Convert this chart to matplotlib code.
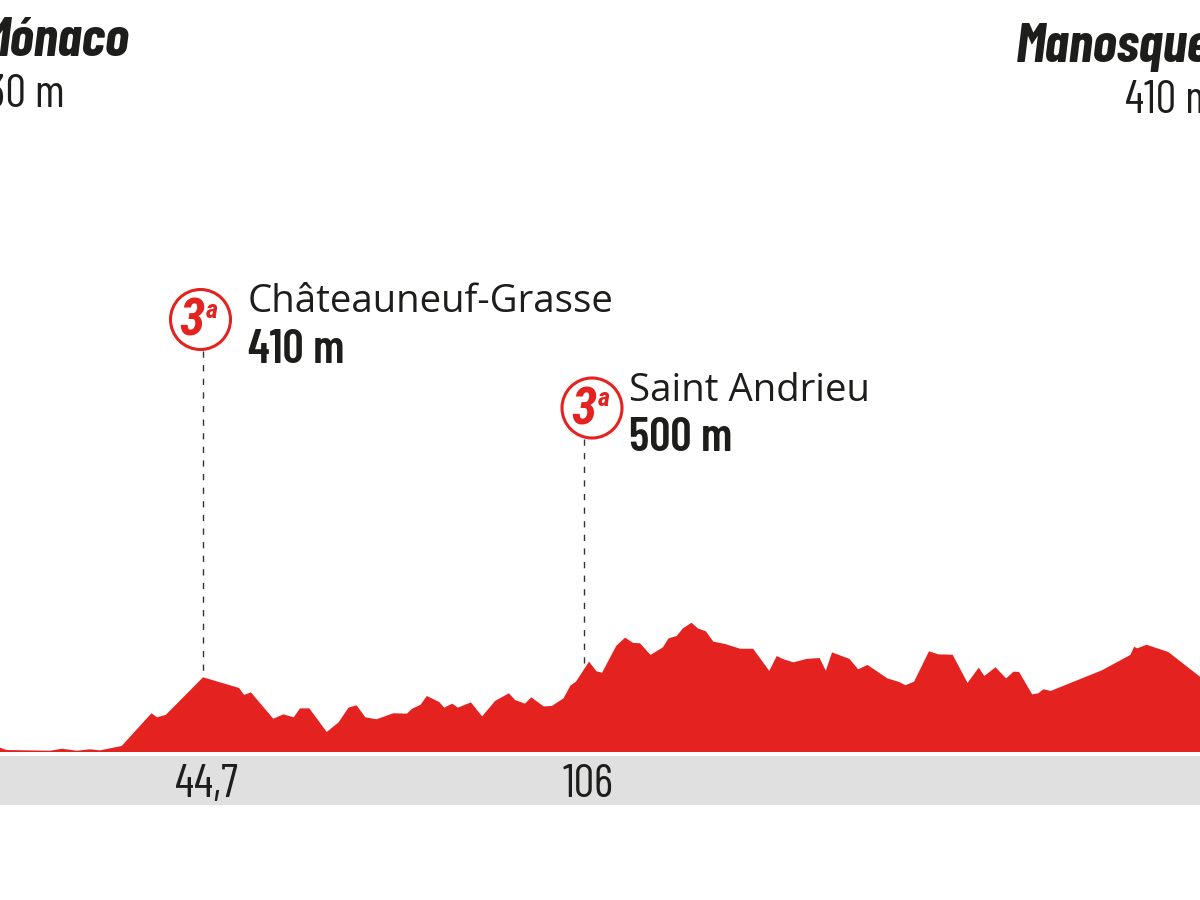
#!/usr/bin/env python3
# Stage profile: Mónaco - Manosque
import matplotlib
matplotlib.use('Agg')
import matplotlib.pyplot as plt
from matplotlib.patches import Ellipse

KM = [12.0, 13.1, 20.1, 22.0, 24.4, 26.5, 28.1, 31.6, 36.4, 37.3, 38.7, 44.7, 50.5, 51.3, 52.4,
      56.0, 57.6, 59.3, 60.3, 61.8, 64.6, 66.5, 68.1, 69.4, 70.8, 72.6, 75.3, 77.5, 78.3, 79.7,
      80.7, 82.7, 83.5, 84.8, 85.7, 87.8, 89.6, 91.7, 93.9, 94.9, 96.5, 97.5, 99.5, 100.8, 102.7,
      103.8, 104.7, 106.8, 108.0, 108.9, 111.2, 112.6, 113.9, 115.0, 116.7, 118.7, 119.6, 120.9,
      121.9, 123.3, 124.3, 125.6, 126.8, 128.7, 131.1, 133.2, 135.8, 137.0, 138.1, 139.7, 141.8,
      143.9, 144.9, 145.9, 148.7, 150.1, 151.6, 154.8, 156.7, 157.7, 159.1, 161.5, 163.0, 165.3,
      167.7, 169.5, 170.4, 172.2, 173.9, 175.1, 176.0, 178.1, 179.1, 179.9, 181.1, 189.3, 193.9,
      194.5, 195.0, 196.5, 200.0, 205.1]
ALT = [24, 11, 7, 18, 7, 15, 9, 33, 213, 191, 204, 411, 352, 314, 328,
       183, 207, 191, 240, 240, 110, 163, 244, 257, 191, 180, 213, 211, 237, 260,
       308, 275, 244, 266, 244, 273, 196, 281, 323, 286, 266, 301, 251, 253, 295,
       365, 387, 497, 444, 436, 585, 629, 600, 598, 534, 576, 625, 638,
       680, 711, 680, 664, 607, 594, 568, 568, 446, 528, 510, 493, 512,
       517, 447, 548, 512, 455, 479, 405, 385, 367, 387, 554, 537, 535,
       380, 464, 418, 466, 405, 442, 440, 317, 323, 345, 336, 449, 534,
       579, 570, 590, 550, 414]

CLIMB_KM = [44.7, 106]
CLIMB_LABELS = ['44,7', '106']
CLIMB_NAMES = ['Châteauneuf-Grasse', 'Saint Andrieu']
CLIMB_HEIGHTS = ['410 m', '500 m']
CLIMB_CAT = ['3', '3']
CLIMB_FOOT = [411, 462]

RED = '#e42320'
INK = '#1d1d1b'
NARROW = ['Barlow Condensed', 'Roboto', 'DejaVu Sans']
BADGE = ['Roboto Condensed', 'Barlow Condensed', 'Roboto', 'DejaVu Sans']

fig = plt.figure(figsize=(12, 9), dpi=100)
ax = fig.add_axes([0, 0, 1, 1])
ax.set_xlim(12.03, 205.1)
ax.set_ylim(-814, 4136)
ax.axis('off')


def px(x, y):
    return x / 1200, 1 - y / 900


ax.axhspan(-292, -20, color='#e0e0e0', lw=0)
ax.fill_between(KM, ALT, 0, color=RED, lw=0)

# end towns, both cut by the picture edge
fig.text(*px(129, 56), 'Mónaco', family=NARROW, weight='bold', style='italic', size=40, color=INK, ha='right', va='baseline')
fig.text(*px(65, 107), '130 m', family=NARROW, size=33, color=INK, ha='right', va='baseline')
fig.text(*px(1211, 62), 'Manosque', family=NARROW, weight='bold', style='italic', size=40, color=INK, ha='right', va='baseline')
fig.text(*px(1215, 113), '410 m', family=NARROW, size=33, color=INK, ha='right', va='baseline')

# climbs
TEXT_PX = [(248, 312, 363), (629, 401, 451)]
BADGE_PX = [(200.5, 319.5), (592, 408)]
for km, lab, name, hgt, cat, foot, tp, bp in zip(CLIMB_KM, CLIMB_LABELS, CLIMB_NAMES, CLIMB_HEIGHTS,
                                                 CLIMB_CAT, CLIMB_FOOT, TEXT_PX, BADGE_PX):
    top = (752 - bp[1] - 31) * 5.5
    ax.plot([km, km], [top, foot], color='#333333', lw=1, dashes=(4.5, 5.3), zorder=1)
    fig.add_artist(Ellipse(px(*bp), 60 / 1200, 60 / 900, transform=fig.transFigure,
                           fc='white', ec=RED, lw=2.2))
    fig.text(*px(bp[0] - 8.5, bp[1] + 16.5), cat, family=BADGE, weight='bold', style='italic', size=37,
             color=RED, ha='center', va='baseline')
    fig.text(*px(bp[0] + 11.5, bp[1] - 1.5), 'a', family=BADGE, weight='bold', style='italic', size=19,
             color=RED, ha='center', va='baseline')
    fig.text(*px(tp[0], tp[1]), name, family='Open Sans', size=27.6, color=INK, va='baseline')
    fig.text(*px(tp[0], tp[2]), hgt, family=NARROW, weight=600, size=34, color=INK, va='baseline')
    ax.text(km + 0.6, -247, lab, family=NARROW, size=33, color=INK, ha='center', va='baseline')

fig.savefig('out.png', dpi=100)
